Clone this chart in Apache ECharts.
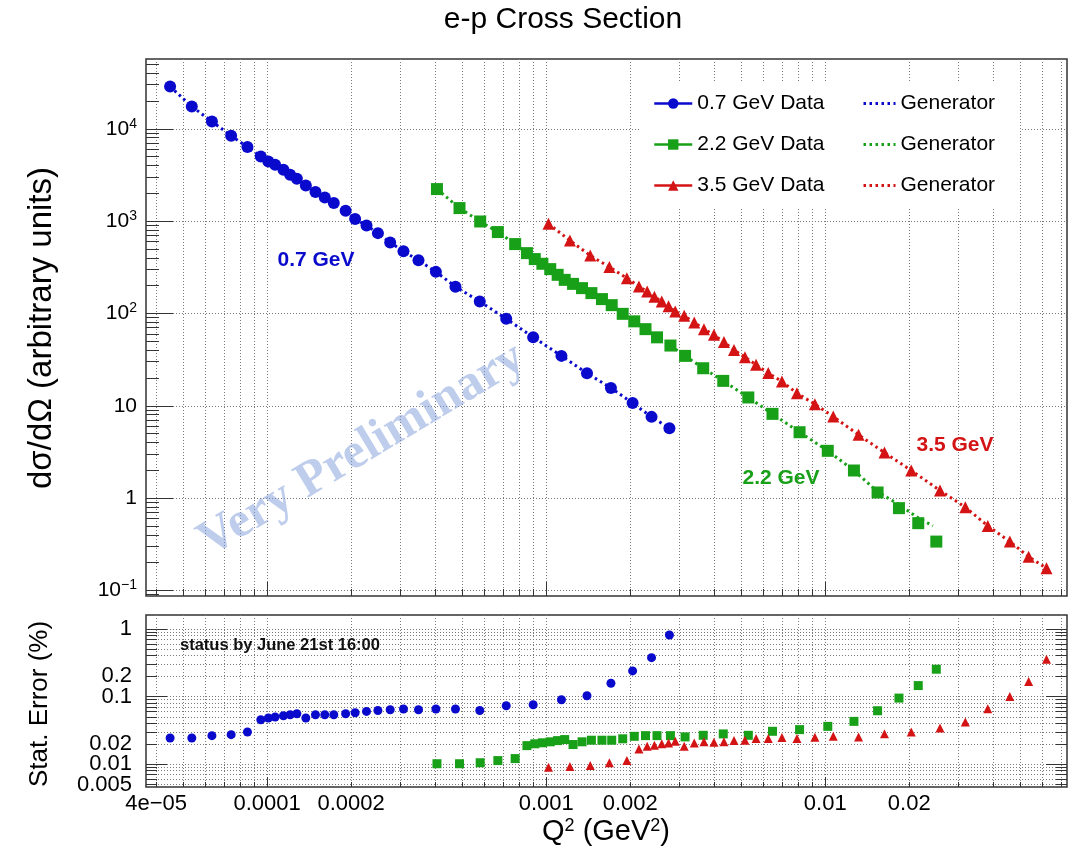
<!DOCTYPE html>
<html><head><meta charset="utf-8">
<script src="https://cdn.jsdelivr.net/npm/echarts@6/dist/echarts.min.js"></script>
<style>html,body{margin:0;padding:0;background:#fff}#c{width:1076px;height:854px}</style>
</head><body><div id="c"></div>
<script>
// ---------------- data ----------------
const q2_07 = [4.49e-5, 5.37e-5, 6.34e-5, 7.43e-5, 8.50e-5, 9.49e-5, 1.01e-4, 1.068e-4, 1.144e-4, 1.209e-4, 1.278e-4, 1.376e-4, 1.49e-4, 1.609e-4, 1.733e-4, 1.911e-4, 2.067e-4, 2.27e-4, 2.494e-4, 2.76e-4, 3.08e-4, 3.486e-4, 4.025e-4, 4.73e-4, 5.78e-4, 7.19e-4, 8.98e-4, 1.134e-3, 1.40e-3, 1.706e-3, 2.04e-3, 2.385e-3, 2.764e-3];
const sig_07 = [28700, 17400, 12000, 8400, 6340, 5010, 4425, 4075, 3596, 3177, 2873, 2431, 2062, 1802, 1568, 1294, 1052, 896, 741, 586, 471, 376, 282, 195, 134.5, 87.4, 55.3, 34.7, 22.5, 15.6, 10.7, 7.58, 5.71];
const err_07 = [0.0244, 0.0244, 0.0264, 0.0273, 0.0299, 0.0454, 0.0481, 0.0498, 0.0520, 0.0538, 0.0557, 0.0481, 0.0538, 0.0538, 0.0538, 0.0557, 0.0576, 0.0602, 0.0622, 0.0637, 0.0653, 0.0637, 0.0653, 0.0653, 0.0622, 0.0729, 0.0755, 0.0894, 0.1024, 0.157, 0.239, 0.375, 0.81];

const q2_22 = [4.06e-4, 4.89e-4, 5.80e-4, 6.71e-4, 7.74e-4, 8.53e-4, 9.10e-4, 9.69e-4, 1.034e-3, 1.099e-3, 1.165e-3, 1.248e-3, 1.344e-3, 1.452e-3, 1.584e-3, 1.717e-3, 1.880e-3, 2.068e-3, 2.269e-3, 2.495e-3, 2.787e-3, 3.145e-3, 3.653e-3, 4.31e-3, 5.30e-3, 6.47e-3, 8.09e-3, 1.021e-2, 1.267e-2, 1.540e-2, 1.837e-2, 2.154e-2, 2.50e-2];
const sig_22 = [2223, 1384, 991, 761, 564, 450, 388, 345, 302, 262, 231, 209, 188, 166, 143, 123, 99, 82.1, 67.6, 55.1, 44.9, 34.7, 25.5, 18.6, 12.3, 8.17, 5.17, 3.25, 1.99, 1.15, 0.778, 0.535, 0.338];
const err_22 = [0.01015, 0.01015, 0.0105, 0.0113, 0.0121, 0.0188, 0.0200, 0.0207, 0.0214, 0.0223, 0.0231, 0.0195, 0.0214, 0.0226, 0.0226, 0.0226, 0.0237, 0.0258, 0.0264, 0.0264, 0.0264, 0.0253, 0.0267, 0.0280, 0.0267, 0.0306, 0.0324, 0.0362, 0.0429, 0.0616, 0.0947, 0.145, 0.253];

const q2_35 = [1.019e-3, 1.216e-3, 1.438e-3, 1.684e-3, 1.946e-3, 2.149e-3, 2.301e-3, 2.442e-3, 2.594e-3, 2.744e-3, 2.90e-3, 3.123e-3, 3.393e-3, 3.675e-3, 3.991e-3, 4.335e-3, 4.71e-3, 5.155e-3, 5.65e-3, 6.248e-3, 6.996e-3, 7.916e-3, 9.18e-3, 1.068e-2, 1.316e-2, 1.630e-2, 2.033e-2, 2.577e-2, 3.176e-2, 3.822e-2, 4.585e-2, 5.355e-2, 6.206e-2];
const sig_35 = [935, 617, 424, 318, 241, 196, 173, 152, 134.5, 119.4, 105, 94.2, 79.7, 67.6, 58.6, 48.9, 40.3, 33.6, 27.8, 22.6, 18.3, 13.7, 10.4, 7.64, 4.84, 3.11, 1.99, 1.21, 0.796, 0.500, 0.338, 0.232, 0.174];
const err_35 = [0.00904, 0.00925, 0.00957, 0.0105, 0.0113, 0.0168, 0.0184, 0.0190, 0.0201, 0.0206, 0.0218, 0.0184, 0.0206, 0.0214, 0.0211, 0.0214, 0.0223, 0.0226, 0.0239, 0.0239, 0.0247, 0.0239, 0.0249, 0.0258, 0.0253, 0.0282, 0.0299, 0.0343, 0.0420, 0.0659, 0.100, 0.166, 0.355];

// generator curves (dotted lines)
const genQ2_07 = q2_07.slice();
const genSig_07 = sig_07.slice();
const genQ2_22 = [4.06e-4, 4.89e-4, 5.80e-4, 6.71e-4, 7.74e-4, 8.53e-4, 9.10e-4, 9.69e-4, 1.034e-3, 1.099e-3, 1.165e-3, 1.248e-3, 1.344e-3, 1.452e-3, 1.584e-3, 1.717e-3, 1.880e-3, 2.068e-3, 2.269e-3, 2.495e-3, 2.787e-3, 3.145e-3, 3.653e-3, 4.31e-3, 5.30e-3, 6.47e-3, 8.09e-3, 1.021e-2, 1.267e-2, 1.540e-2, 1.837e-2, 2.154e-2, 2.43e-2];
const genSig_22 = [2223, 1384, 991, 761, 564, 450, 388, 345, 302, 262, 231, 209, 188, 166, 143, 123, 99, 82.1, 67.6, 55.1, 44.9, 34.7, 25.5, 18.6, 12.3, 8.17, 5.17, 3.25, 1.99, 1.17, 0.85, 0.61, 0.50];
const genQ2_35 = q2_35.slice();
const genSig_35 = sig_35.slice();

// tick labels
const xTickVals = [4e-5, 1e-4, 2e-4, 1e-3, 2e-3, 1e-2, 2e-2];
const xTickLabels = ['4e\u221205', '0.0001', '0.0002', '0.001', '0.002', '0.01', '0.02'];
const yTopTickVals = [0.1, 1, 10, 100, 1000, 10000];
const yTopTickLabels = ['10{s|\u22121}', '1', '10', '10{s|2}', '10{s|3}', '10{s|4}'];
const yBotTickValsA = [0.005, 0.02, 0.2];
const yBotTickLabelsA = ['0.005', '0.02', '0.2'];
const yBotTickValsB = [0.01, 0.1, 1];
const yBotTickLabelsB = ['0.01', '0.1', '1'];

// ---------------- layout / style ----------------
const FONT = '"Liberation Sans", Arial, Helvetica, sans-serif';
const BLUE = '#0a0acd', GREEN = '#18a018', RED = '#d41414';
const X_MIN = 3.68e-5, X_MAX = 0.0735;
const Y1_MIN = 0.087, Y1_MAX = 57000;
const Y2_MIN = 0.0046, Y2_MAX = 1.6;

function logTicks(lo, hi, mode) { // mode: 'all' | 'dec' | 'minor'
  const out = [];
  for (let e = -7; e <= 6; e++) for (let m = 1; m <= 9; m++) {
    if (mode === 'dec' && m !== 1) continue;
    if (mode === 'minor' && m === 1) continue;
    const v = parseFloat((m * Math.pow(10, e)).toPrecision(4));
    if (v >= lo && v <= hi) out.push(v);
  }
  return out;
}
function lookup(vals, labels) {
  return function (v) {
    for (let i = 0; i < vals.length; i++) {
      if (Math.abs(Math.log10(v) - Math.log10(vals[i])) < 1e-6) return labels[i];
    }
    return '';
  };
}
function logAxis(o) {
  return Object.assign({
    type: 'log', logBase: 10, min: o.min, max: o.max, gridIndex: o.grid, position: o.pos, offset: 0,
    axisLine: { show: false }, axisLabel: { show: false }, splitLine: { show: false },
    axisTick: { show: true, inside: true, length: o.len, customValues: o.ticks, lineStyle: { color: '#333', width: 1 } },
    silent: true
  }, o.extra || {});
}
const gridLine = { show: true, lineStyle: { color: '#7a7a7a', width: 1, type: [1, 2] } };
function botLabel(vals, labels) {
  return { show: true, customValues: vals, formatter: lookup(vals, labels), margin: 14,
    showMinLabel: true, showMaxLabel: true, hideOverlap: false,
    fontFamily: FONT, fontSize: 22, color: '#000' };
}

const xAxes = [
  logAxis({ grid: 0, pos: 'bottom', min: X_MIN, max: X_MAX, len: 7, ticks: logTicks(X_MIN, X_MAX, 'all'), extra: { splitLine: gridLine } }),
  logAxis({ grid: 0, pos: 'bottom', min: X_MIN, max: X_MAX, len: 14, ticks: logTicks(X_MIN, X_MAX, 'dec') }),
  logAxis({ grid: 1, pos: 'bottom', min: X_MIN, max: X_MAX, len: 5, ticks: logTicks(X_MIN, X_MAX, 'all'), extra: {
    splitLine: gridLine,
    axisLabel: { show: true, customValues: xTickVals, formatter: lookup(xTickVals, xTickLabels), margin: 6,
      showMinLabel: true, showMaxLabel: true, hideOverlap: false,
      fontFamily: FONT, fontSize: 22, color: '#000' } } }),
  logAxis({ grid: 1, pos: 'bottom', min: X_MIN, max: X_MAX, len: 10, ticks: logTicks(X_MIN, X_MAX, 'dec') })
];
const yAxes = [
  logAxis({ grid: 0, pos: 'left', min: Y1_MIN, max: Y1_MAX, len: 27, ticks: logTicks(Y1_MIN, Y1_MAX, 'dec'), extra: {
    splitLine: gridLine,
    axisLabel: { show: true, customValues: yTopTickVals, formatter: lookup(yTopTickVals, yTopTickLabels), margin: 9,
      showMinLabel: true, showMaxLabel: true, hideOverlap: false,
      fontFamily: FONT, fontSize: 21, color: '#000', lineHeight: 24,
      rich: { s: { fontFamily: FONT, fontSize: 14, lineHeight: 14, verticalAlign: 'top', color: '#000' } } } } }),
  logAxis({ grid: 0, pos: 'left', min: Y1_MIN, max: Y1_MAX, len: 13, ticks: logTicks(Y1_MIN, Y1_MAX, 'minor') }),
  logAxis({ grid: 1, pos: 'left', min: Y2_MIN, max: Y2_MAX, len: 11, ticks: logTicks(Y2_MIN, Y2_MAX, 'all'), extra: {
    splitLine: gridLine, axisLabel: botLabel(yBotTickValsA, yBotTickLabelsA) } }),
  logAxis({ grid: 1, pos: 'left', min: Y2_MIN, max: Y2_MAX, len: 21, ticks: logTicks(Y2_MIN, Y2_MAX, 'dec'), extra: {
    axisLabel: botLabel(yBotTickValsB, yBotTickLabelsB) } }),
  logAxis({ grid: 1, pos: 'right', min: Y2_MIN, max: Y2_MAX, len: 11, ticks: logTicks(Y2_MIN, Y2_MAX, 'all') }),
  logAxis({ grid: 1, pos: 'right', min: Y2_MIN, max: Y2_MAX, len: 21, ticks: logTicks(Y2_MIN, Y2_MAX, 'dec') })
];

function pairs(xs, ys) { return xs.map((x, i) => [x, ys[i]]); }
function dataSeries(name, xs, ys, color, symbol, size) {
  return { name: name, type: 'line', xAxisIndex: 0, yAxisIndex: 0, data: pairs(xs, ys),
    symbol: symbol, symbolSize: size, showSymbol: true, showAllSymbol: true,
    itemStyle: { color: color }, lineStyle: { color: color, width: 2, opacity: 0 }, z: 3 };
}
function genSeries(name, xs, ys, color) {
  return { name: name, type: 'line', xAxisIndex: 0, yAxisIndex: 0, data: pairs(xs, ys),
    symbol: 'none', showSymbol: false, itemStyle: { color: color },
    lineStyle: { color: color, width: 3, type: [2.5, 3.5] }, z: 4 };
}
function errSeries(name, xs, ys, color, symbol, size) {
  return { name: name, type: 'scatter', xAxisIndex: 2, yAxisIndex: 2, data: pairs(xs, ys),
    symbol: symbol, symbolSize: size, itemStyle: { color: color, opacity: 1 }, z: 3 };
}

const option = {
  animation: false,
  backgroundColor: '#fff',
  grid: [
    { left: 146, right: 9, top: 59, height: 537, show: true, borderColor: '#333', borderWidth: 1.5, backgroundColor: 'transparent', outerBoundsMode: 'none', containLabel: false },
    { left: 146, right: 9, top: 615, height: 172, show: true, borderColor: '#333', borderWidth: 1.5, backgroundColor: 'transparent', outerBoundsMode: 'none', containLabel: false }
  ],
  xAxis: xAxes,
  yAxis: yAxes,
  legend: [
    { data: ['0.7 GeV Data', '2.2 GeV Data', '3.5 GeV Data'], orient: 'vertical', left: 653, top: 93, padding: 0,
      itemWidth: 38, itemHeight: 13, itemGap: 20, selectedMode: false,
      lineStyle: { opacity: 1, width: 2.5 },
      textStyle: { fontFamily: FONT, fontSize: 21, color: '#000' } },
    { data: ['Generator', 'Generator ', 'Generator  '], orient: 'vertical', left: 862, top: 93, padding: 0,
      itemWidth: 32, itemHeight: 13, itemGap: 20, selectedMode: false,
      itemStyle: { opacity: 0 },
      lineStyle: { opacity: 1, width: 3 },
      textStyle: { fontFamily: FONT, fontSize: 21, color: '#000' } }
  ],
  graphic: [
    { type: 'rect', z: 1, silent: true, shape: { x: 641, y: 83, width: 379, height: 125 }, style: { fill: '#fff' } },
    { type: 'text', z: 10, x: 563, y: 20, style: { text: 'e-p Cross Section', fontFamily: FONT, fontSize: 30, fill: '#000', textAlign: 'center', textVerticalAlign: 'middle', verticalAlign: 'middle' } },
    { type: 'text', z: 10, x: 42, y: 328, rotation: Math.PI / 2, style: { text: 'd\u03c3/d\u03a9 (arbitrary units)', fontFamily: FONT, fontSize: 33, fill: '#000', textAlign: 'center', textVerticalAlign: 'middle', verticalAlign: 'middle' } },
    { type: 'text', z: 10, x: 40, y: 704, rotation: Math.PI / 2, style: { text: 'Stat. Error (%)', fontFamily: FONT, fontSize: 26, fill: '#000', textAlign: 'center', textVerticalAlign: 'middle', verticalAlign: 'middle' } },
    { type: 'text', z: 10, x: 606, y: 832, style: { text: 'Q{s|2} (GeV{s|2})', fontFamily: FONT, fontSize: 29, fill: '#000', textAlign: 'center', textVerticalAlign: 'middle', verticalAlign: 'middle',
      rich: { s: { fontFamily: FONT, fontSize: 18, lineHeight: 18, verticalAlign: 'top', fill: '#000' } } } },
    { type: 'text', z: 10, x: 316, y: 260, style: { text: '0.7 GeV', fontFamily: FONT, fontWeight: 'bold', fontSize: 21, fill: BLUE, textAlign: 'center', textVerticalAlign: 'middle', verticalAlign: 'middle' } },
    { type: 'text', z: 10, x: 781, y: 478, style: { text: '2.2 GeV', fontFamily: FONT, fontWeight: 'bold', fontSize: 21, fill: GREEN, textAlign: 'center', textVerticalAlign: 'middle', verticalAlign: 'middle' } },
    { type: 'text', z: 10, x: 955, y: 445, style: { text: '3.5 GeV', fontFamily: FONT, fontWeight: 'bold', fontSize: 21, fill: RED, textAlign: 'center', textVerticalAlign: 'middle', verticalAlign: 'middle' } },
    { type: 'text', z: 10, x: 180, y: 645, style: { text: 'status by June 21st 16:00', fontFamily: FONT, fontWeight: 'bold', fontSize: 16.5, fill: '#111', textAlign: 'left', textVerticalAlign: 'middle', verticalAlign: 'middle' } },
    { type: 'text', z: 2, silent: true, x: 362, y: 450, rotation: 31 * Math.PI / 180, style: { text: 'Very Preliminary', fontFamily: '"Liberation Serif", "Times New Roman", serif', fontWeight: 'bold', fontSize: 50, fill: 'rgba(125,155,218,0.5)', textAlign: 'center', textVerticalAlign: 'middle', verticalAlign: 'middle' } }
  ],
  series: [
    dataSeries('0.7 GeV Data', q2_07, sig_07, BLUE, 'circle', 12),
    dataSeries('2.2 GeV Data', q2_22, sig_22, GREEN, 'rect', 12),
    dataSeries('3.5 GeV Data', q2_35, sig_35, RED, 'triangle', 12),
    genSeries('Generator', genQ2_07, genSig_07, BLUE),
    genSeries('Generator ', genQ2_22, genSig_22, GREEN),
    genSeries('Generator  ', genQ2_35, genSig_35, RED),
    errSeries('err 0.7', q2_07, err_07, BLUE, 'circle', 9),
    errSeries('err 2.2', q2_22, err_22, GREEN, 'rect', 9),
    errSeries('err 3.5', q2_35, err_35, RED, 'triangle', 9)
  ]
};
const chart = echarts.init(document.getElementById('c'), null, { renderer: 'canvas' });
chart.setOption(option);
</script>
</body></html>
